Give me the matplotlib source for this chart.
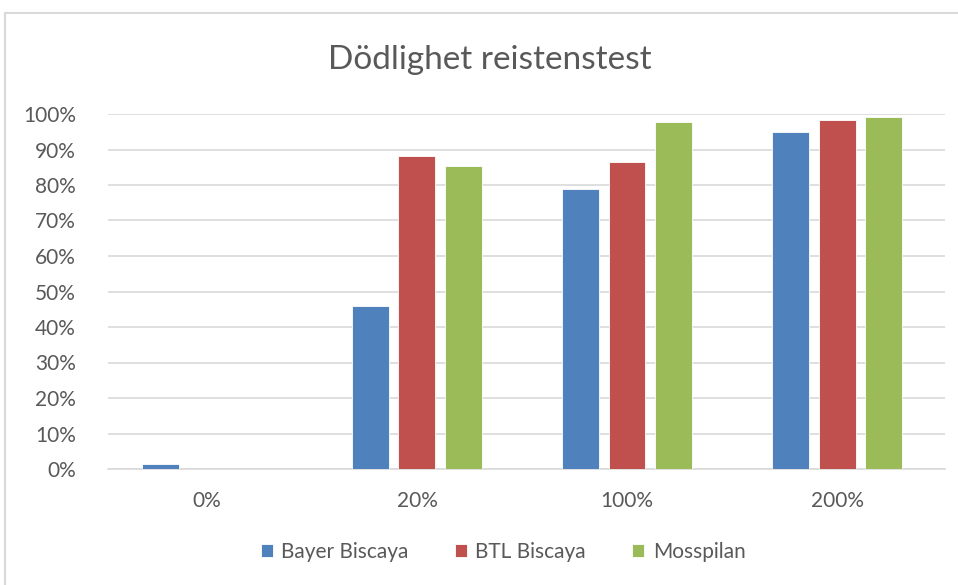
import numpy as np
import matplotlib.pyplot as plt
from matplotlib.patches import Rectangle
from matplotlib.ticker import PercentFormatter

categories = ['0%', '20%', '100%', '200%']
series_names = ['Bayer Biscaya', 'BTL Biscaya', 'Mosspilan']
bayer = [0.014, 0.459, 0.789, 0.949]
btl = [0.0, 0.882, 0.865, 0.983]
mosspilan = [0.0, 0.854, 0.977, 0.992]
colors = ['#4F81BD', '#C0504D', '#9BBB59']

plt.rcParams['font.family'] = ['Lato', 'DejaVu Sans']

fig = plt.figure(figsize=(9.58, 5.85), dpi=100)
# chart border like the Excel frame
fig.patches.append(Rectangle((5 / 958, -0.05), 1.1, 1 - 13 / 585 + 0.05,
                             transform=fig.transFigure, fill=False,
                             edgecolor='#D9D9D9', linewidth=1.5))

ax = fig.add_axes([108 / 958, 1 - 469 / 585, (945 - 108) / 958, (469 - 114) / 585])

x = np.arange(len(categories))
width = 0.176
step = 0.222
for i, (vals, name) in enumerate(zip([bayer, btl, mosspilan], series_names)):
    ax.bar(x + (i - 1) * step, vals, width, color=colors[i], label=name,
           edgecolor='white', linewidth=0.6, zorder=3)

ax.set_xlim(-0.471, 3.514)
ax.set_ylim(0, 1)
ax.set_yticks(np.arange(0, 1.01, 0.1))
ax.yaxis.set_major_formatter(PercentFormatter(1.0, decimals=0))
ax.set_xticks(x)
ax.set_xticklabels(categories)
ax.grid(axis='y', color='#D9D9D9', linewidth=1.2, zorder=0)
for s in ['top', 'right', 'left']:
    ax.spines[s].set_visible(False)
ax.spines['bottom'].set_color('#D9D9D9')
ax.spines['bottom'].set_linewidth(1.2)
ax.tick_params(axis='both', length=0, labelsize=15, labelcolor='#595959')
ax.tick_params(axis='y', pad=23)
ax.tick_params(axis='x', pad=16)

fig.text(490 / 958, 1 - 60 / 585, 'Dödlighet reistenstest', ha='center', va='center',
         fontsize=24, color='#595959')

fig.legend(loc='center', bbox_to_anchor=(503 / 958, 1 - 552 / 585), ncol=3,
           frameon=False, fontsize=15, labelcolor='#595959', handlelength=0.6,
           handleheight=0.6, handletextpad=0.4, columnspacing=2.2)

fig.savefig('out.png', dpi=100)
